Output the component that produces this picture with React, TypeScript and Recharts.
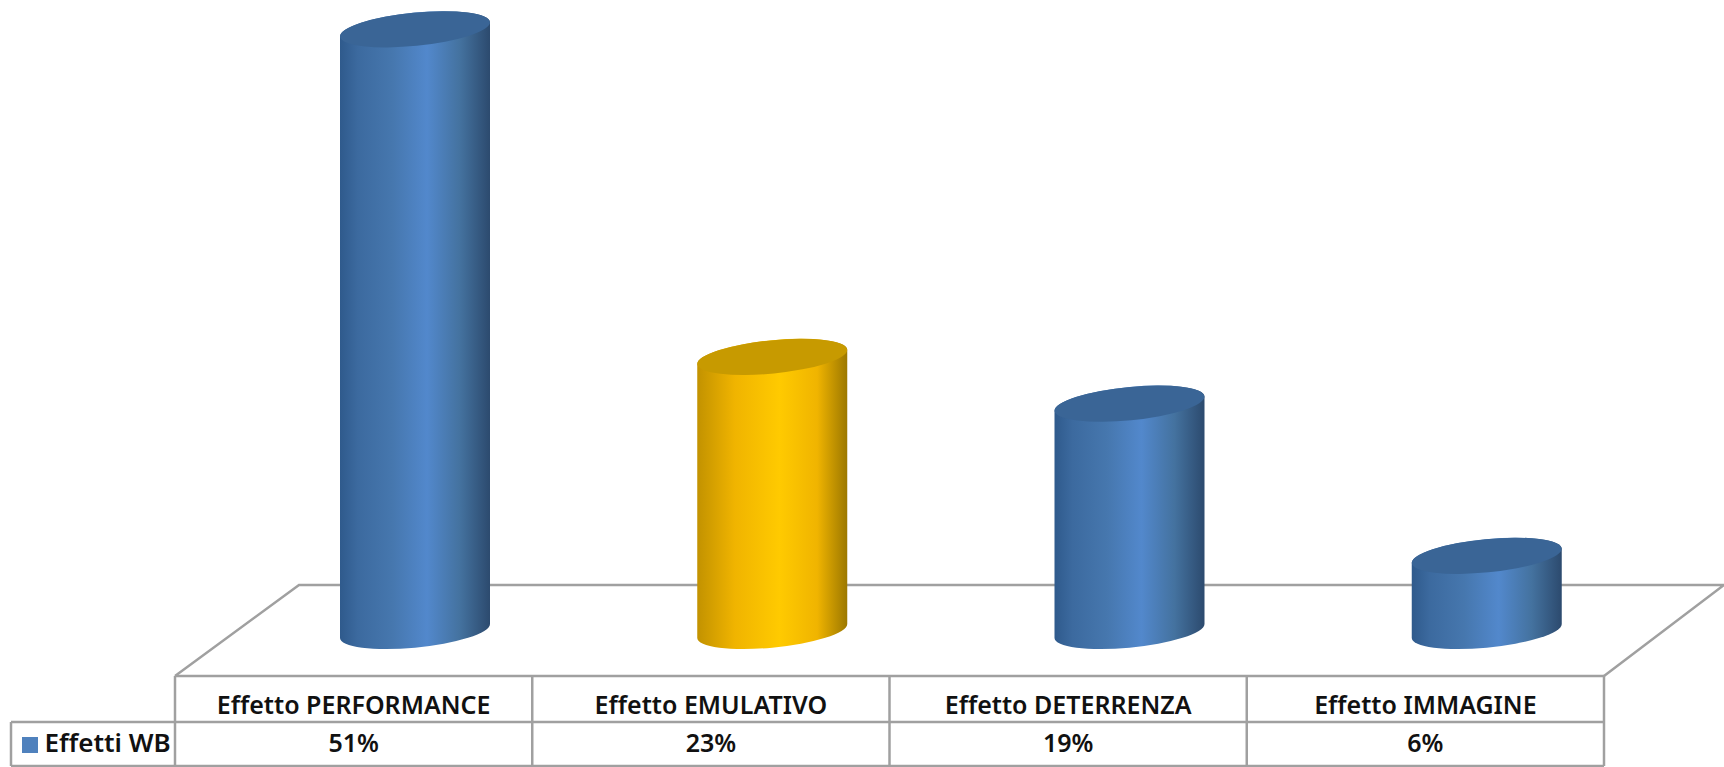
import { BarChart, Bar, XAxis, YAxis, Legend } from "recharts";

// --- DATA ---
const categories = [
  "Effetto PERFORMANCE",
  "Effetto EMULATIVO",
  "Effetto DETERRENZA",
  "Effetto IMMAGINE",
];
const effettiWB = [51, 23, 19, 6];
const barTones = ["blue", "gold", "blue", "blue"];

const chartData = categories.map((name, i) => ({
  name,
  effetti: effettiWB[i],
  tone: barTones[i],
}));

// --- LAYOUT ---
const WIDTH = 1724;
const HEIGHT = 767;
const PLOT_LEFT = 175;
const PLOT_RIGHT = 1604;
const TABLE_TOP = 676;
const ROW_LINE = 722;
const TABLE_BOTTOM = 766;
const LEGEND_LEFT = 11;
const FLOOR_BACK = 585;
const FLOOR_BACK_LEFT = 299;
const GRID_COLOR = "#a0a0a0";
const FONT = '"Noto Sans", sans-serif';

// the cylinders stand on the floor, further back than the table edge
const DEPTH_X = 61;
const DEPTH_Y = -50;
const FOOT_DROP = 5;

const CAP_RX = 75.3;
const CAP_RY = 16.6;
const CAP_TILT = -5.6;
const CAP_LEAN = 7;

const capColors: Record<string, string> = { blue: "#3a6596", gold: "#c79a00" };

const Cylinder = (props: any) => {
  const { x, y, width, height, payload } = props;
  const half = width / 2;
  const cx = x + half + DEPTH_X;
  const top = y + DEPTH_Y;
  const bottom = y + height + DEPTH_Y + FOOT_DROP;
  const arc = `A ${CAP_RX} ${CAP_RY} ${CAP_TILT} 0 0`;
  const body = [
    `M ${cx - half} ${top + CAP_LEAN}`,
    `L ${cx - half} ${bottom + CAP_LEAN}`,
    `${arc} ${cx + half} ${bottom - CAP_LEAN}`,
    `L ${cx + half} ${top - CAP_LEAN}`,
    `${arc} ${cx - half} ${top + CAP_LEAN}`,
    "Z",
  ].join(" ");
  return (
    <g>
      <path d={body} fill={`url(#side-${payload.tone})`} />
      <ellipse
        cx={cx}
        cy={top}
        rx={CAP_RX}
        ry={CAP_RY}
        fill={capColors[payload.tone]}
        transform={`rotate(${CAP_TILT} ${cx} ${top})`}
      />
    </g>
  );
};

// floor and the lines of the data table under the plot
const FloorAndTable = () => {
  const cell = (PLOT_RIGHT - PLOT_LEFT) / categories.length;
  return (
    <g stroke={GRID_COLOR} strokeWidth={2.5} fill="none">
      <path
        d={`M ${PLOT_LEFT} ${TABLE_TOP} L ${FLOOR_BACK_LEFT} ${FLOOR_BACK} L ${WIDTH} ${FLOOR_BACK} L ${PLOT_RIGHT} ${TABLE_TOP}`}
      />
      <line x1={PLOT_LEFT} x2={PLOT_RIGHT} y1={TABLE_TOP} y2={TABLE_TOP} />
      <line x1={LEGEND_LEFT} x2={PLOT_RIGHT} y1={ROW_LINE} y2={ROW_LINE} />
      <line x1={LEGEND_LEFT} x2={PLOT_RIGHT} y1={TABLE_BOTTOM} y2={TABLE_BOTTOM} />
      <line x1={LEGEND_LEFT} x2={LEGEND_LEFT} y1={ROW_LINE} y2={TABLE_BOTTOM} />
      {[0, 1, 2, 3, 4].map((i) => (
        <line
          key={i}
          x1={PLOT_LEFT + cell * i}
          x2={PLOT_LEFT + cell * i}
          y1={TABLE_TOP}
          y2={TABLE_BOTTOM}
        />
      ))}
    </g>
  );
};

const tableTick = { fill: "#111", fontSize: 25, fontWeight: 600, fontFamily: FONT };

export default function App() {
  return (
    <div style={{ position: "absolute", left: 0, top: 0, width: WIDTH, height: HEIGHT, background: "#fff" }}>
      <BarChart
        width={WIDTH}
        height={HEIGHT}
        data={chartData}
        margin={{ top: 32.5, right: WIDTH - PLOT_RIGHT, bottom: 1, left: PLOT_LEFT }}
      >
        <defs>
          <linearGradient id="side-blue" x1="0" y1="0" x2="1" y2="0">
            <stop offset="0%" stopColor="#2f5a8c" />
            <stop offset="12%" stopColor="#3c6a9f" />
            <stop offset="35%" stopColor="#4677ae" />
            <stop offset="58%" stopColor="#5288cc" />
            <stop offset="80%" stopColor="#44729f" />
            <stop offset="100%" stopColor="#2c4a6e" />
          </linearGradient>
          <linearGradient id="side-gold" x1="0" y1="0" x2="1" y2="0">
            <stop offset="0%" stopColor="#c29200" />
            <stop offset="25%" stopColor="#f0b400" />
            <stop offset="55%" stopColor="#ffca00" />
            <stop offset="80%" stopColor="#f0b400" />
            <stop offset="100%" stopColor="#9c7800" />
          </linearGradient>
        </defs>

        <FloorAndTable />

        <XAxis
          dataKey="name"
          height={46}
          axisLine={false}
          tickLine={false}
          tickSize={0}
          tickMargin={20}
          interval={0}
          tick={tableTick}
        />
        <XAxis
          xAxisId="values"
          dataKey="effetti"
          height={44}
          axisLine={false}
          tickLine={false}
          tickSize={0}
          tickMargin={12}
          interval={0}
          tickFormatter={(v) => `${v}%`}
          tick={tableTick}
        />
        <YAxis hide domain={[0, 55]} />

        {/* verticalAlign middle keeps the legend from taking room off the plot */}
        <Legend
          layout="horizontal"
          verticalAlign="middle"
          iconType="square"
          iconSize={16}
          wrapperStyle={{ left: 14, top: 724, width: 175, fontFamily: FONT, fontSize: 26, fontWeight: 600 }}
          formatter={(value) => <span style={{ color: "#111", marginLeft: 2 }}>{value}</span>}
        />

        <Bar
          dataKey="effetti"
          name="Effetti WB"
          fill="#4f81bd"
          barSize={150}
          shape={Cylinder}
          isAnimationActive={false}
        />
      </BarChart>
    </div>
  );
}
